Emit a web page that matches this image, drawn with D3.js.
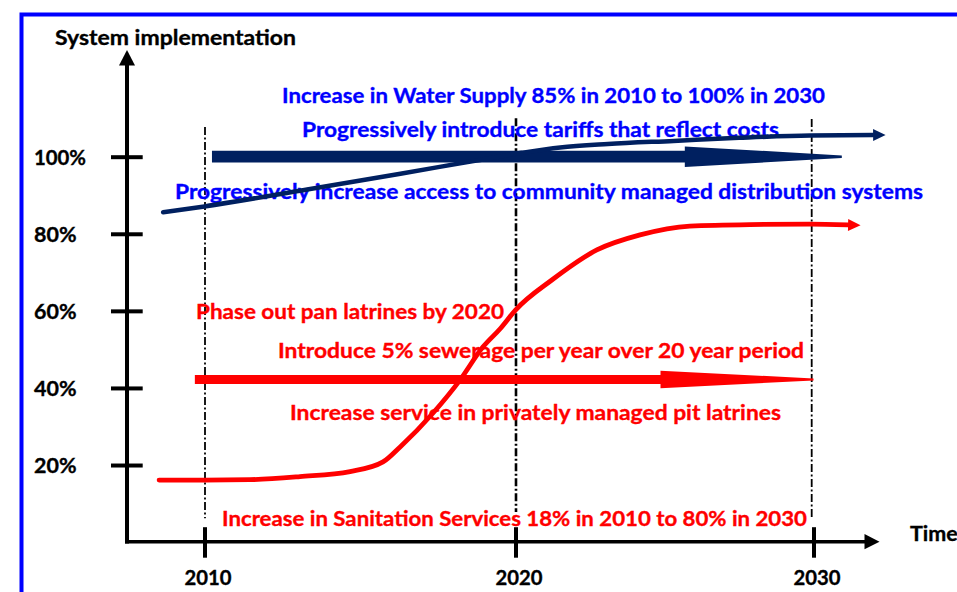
<!DOCTYPE html>
<html>
<head>
<meta charset="utf-8">
<script src="https://cdn.jsdelivr.net/npm/d3@7"></script>
<style>
  html, body { margin: 0; padding: 0; background: #fff; overflow: hidden; }
  svg { display: block; }
  text { font-family: Lato, "Open Sans", sans-serif; font-weight: 700; }
</style>
</head>
<body>
<svg id="chart" width="957" height="592"></svg>
<script>
// Milestone years on the time axis and implementation levels on the vertical axis
const years = [2010, 2020, 2030];
const levelTicks = [20, 40, 60, 80, 100];

// Water supply implementation path (year, % implemented)
const waterYears  = [2008.67, 2010, 2013.3, 2016.3, 2018.6, 2020.2, 2021.5, 2023.1, 2025.3, 2027.5, 2029.9, 2032.0];
const waterValues = [85.6, 87.1, 91.5, 95.6, 98.8, 101.0, 102.4, 103.3, 104.1, 104.9, 105.5, 105.6];

// Sanitation implementation path (year, % implemented)
const sanitationYears  = [2008.54, 2010, 2011.46, 2013.07, 2014.68, 2015.74, 2016.29, 2017.35, 2018.22, 2018.95, 2019.5, 2020.0, 2021.22, 2022.73, 2024.18, 2025.85, 2027.87, 2029.88, 2031.16];
const sanitationValues = [16.1, 16.1, 16.2, 17.0, 18.3, 20.8, 24.7, 33.5, 42.1, 50.6, 55.3, 60.2, 68.0, 75.8, 79.7, 82.0, 82.4, 82.5, 82.3];

// Programme arrows: start year, end year, level
const tariffProgramme   = [2010.24, 2030.95, 100];
const sewerageProgramme = [2009.69, 2030.0, 42.2];

// Vertical milestone guides: year, top level, bottom level
const guideYears   = [2010, 2020, 2030];
const guideTops    = [107.7, 110.0, 109.8];
const guideBottoms = [6.2, 7.8, 6.2];

// Annotation texts
const waterNotes = [
  "Increase in Water Supply 85% in 2010 to 100% in 2030",
  "Progressively introduce tariffs that reflect costs",
  "Progressively increase access to community managed distribution systems"
];
const sanitationNotes = [
  "Phase out pan latrines by 2020",
  "Introduce 5% sewerage per year over 20 year period",
  "Increase service in privately managed pit latrines",
  "Increase in Sanitation Services 18% in 2010 to 80% in 2030"
];

// Layout of the annotations: [left x, baseline y, width]
const waterNoteLayout = [[282, 102.5, 543], [302, 137, 477], [175, 199, 748]];
const sanitationNoteLayout = [[196, 319, 308], [278, 358, 526], [290, 420, 491], [222, 526, 585]];

const NAVY = "#002060", BLUE = "#0000ff", RED = "#ff0000";
const FONT_SIZE = 21.5;

const svg = d3.select("#chart");

// Frame
svg.append("rect")
  .attr("x", 21.5).attr("y", 14.5)
  .attr("width", 1100).attr("height", 1000)
  .attr("fill", "none").attr("stroke", BLUE).attr("stroke-width", 4);

// Scales
const x = d3.scaleLinear().domain([2010, 2020, 2030]).range([204.5, 515.5, 813.5]);
const y = d3.scaleLinear().domain([0, 100]).range([542.1, 156.7]);
const axisX0 = 127;

// Heavy label styling shared by all texts
function heavy(sel, color) {
  return sel.attr("font-size", FONT_SIZE).attr("fill", color)
    .attr("stroke", color).attr("stroke-width", 0.35).attr("paint-order", "stroke");
}

// Milestone guides (dash-dot)
svg.append("g").selectAll("line")
  .data(guideYears)
  .join("line")
  .attr("x1", d => x(d) + (d === 2030 ? -1.8 : 0.5))
  .attr("x2", d => x(d) + (d === 2030 ? -1.8 : 0.5))
  .attr("y1", (d, i) => y(guideTops[i]))
  .attr("y2", (d, i) => y(guideBottoms[i]))
  .attr("stroke", "#000")
  .attr("stroke-width", d => d === 2020 ? 2.6 : 1.8)
  .attr("stroke-dasharray", "8,2.5,2,2.5");

// Annotation texts (drawn beneath the paths)
const notes = svg.append("g");
waterNotes.forEach((t, i) => {
  const [lx, ly, w] = waterNoteLayout[i];
  heavy(notes.append("text"), BLUE).attr("x", lx).attr("y", ly)
    .attr("textLength", w).attr("lengthAdjust", "spacingAndGlyphs")
    .text(t);
});
sanitationNotes.forEach((t, i) => {
  const [lx, ly, w] = sanitationNoteLayout[i];
  heavy(notes.append("text"), RED).attr("x", lx).attr("y", ly)
    .attr("textLength", w).attr("lengthAdjust", "spacingAndGlyphs")
    .text(t);
});

// Broad programme arrow with long tapered head
function programmeArrow(p, halfBar, halfHead, headLen, halfTip) {
  const x0 = x(p[0]), x1 = x(p[1]), c = y(p[2]), xb = x1 - headLen;
  return `M${x0},${c - halfBar}L${xb},${c - halfBar}L${xb},${c - halfHead}` +
         `L${x1},${c - halfTip}L${x1},${c + halfTip}L${xb},${c + halfHead}` +
         `L${xb},${c + halfBar}L${x0},${c + halfBar}Z`;
}
svg.append("path").attr("d", programmeArrow(tariffProgramme, 5.85, 10.3, 157, 1.2)).attr("fill", NAVY);
svg.append("path").attr("d", programmeArrow(sewerageProgramme, 4.5, 8.8, 153, 1)).attr("fill", RED);

// Implementation paths ending in an arrow head
const line = d3.line().x(d => x(d[0])).y(d => y(d[1])).curve(d3.curveMonotoneX);
function pathWithHead(ys, vs, color, width) {
  const pts = ys.map((yr, i) => [yr, vs[i]]);
  svg.append("path").attr("d", line(pts))
    .attr("fill", "none").attr("stroke", color)
    .attr("stroke-width", width).attr("stroke-linecap", "round");
  const a = pts[pts.length - 2], b = pts[pts.length - 1];
  const bx = x(b[0]), by = y(b[1]);
  const dx = bx - x(a[0]), dy = by - y(a[1]);
  const len = Math.hypot(dx, dy), ux = dx / len, uy = dy / len;
  const L = 12.5, H = 6;
  svg.append("path")
    .attr("d", `M${bx + ux * L},${by + uy * L}L${bx - uy * H},${by + ux * H}L${bx + uy * H},${by - ux * H}Z`)
    .attr("fill", color);
}
pathWithHead(waterYears, waterValues, NAVY, 4.5);
pathWithHead(sanitationYears, sanitationValues, RED, 4.8);

// Vertical axis
const yAxis = svg.append("g").attr("transform", `translate(${axisX0},0)`)
  .call(d3.axisLeft(y).tickValues(levelTicks).tickFormat(d => d + "%").tickSize(16));
yAxis.select(".domain").remove();
yAxis.selectAll(".tick line").attr("x1", -16).attr("x2", 15.7).attr("stroke", "#000").attr("stroke-width", 4);
yAxis.selectAll(".tick text").each(function (d) {
  heavy(d3.select(this), "#000")
    .attr("x", 34 - axisX0).attr("dy", "0.36em")
    .attr("text-anchor", "start")
    .attr("font-family", "Lato, sans-serif").attr("font-weight", 700)
    .attr("textLength", d === 100 ? 52 : 42.5).attr("lengthAdjust", "spacingAndGlyphs");
});
svg.append("line").attr("x1", axisX0).attr("x2", axisX0)
  .attr("y1", y(0) + 1.5).attr("y2", 64).attr("stroke", "#000").attr("stroke-width", 4);
svg.append("path")
  .attr("d", `M${axisX0},50L${axisX0 + 8},65.5L${axisX0 - 8},65.5Z`).attr("fill", "#000");

// Horizontal (time) axis
const xAxis = svg.append("g").attr("transform", `translate(0,${y(0) - 0.4})`)
  .call(d3.axisBottom(x).tickValues(years).tickFormat(d3.format("d")).tickSize(16));
xAxis.select(".domain").remove();
xAxis.selectAll(".tick line").attr("y1", -14.5).attr("y2", 16).attr("stroke", "#000").attr("stroke-width", 4);
xAxis.selectAll(".tick text").each(function () {
  heavy(d3.select(this), "#000")
    .attr("y", 43.5).attr("dy", 0).attr("dx", 3)
    .attr("font-family", "Lato, sans-serif").attr("font-weight", 700)
    .attr("textLength", 47).attr("lengthAdjust", "spacingAndGlyphs");
});
svg.append("line").attr("x1", axisX0 - 2).attr("x2", 866)
  .attr("y1", y(0) - 0.4).attr("y2", y(0) - 0.4).attr("stroke", "#000").attr("stroke-width", 3.6);
svg.append("path")
  .attr("d", `M879.5,${y(0) - 0.4}L864.5,${y(0) - 8}L864.5,${y(0) + 7.2}Z`).attr("fill", "#000");

// Axis titles
heavy(svg.append("text"), "#000").attr("x", 55).attr("y", 45)
  .attr("textLength", 241).attr("lengthAdjust", "spacingAndGlyphs")
  .text("System implementation");
heavy(svg.append("text"), "#000").attr("x", 910).attr("y", 540.5)
  .text("Time");
</script>
</body>
</html>
